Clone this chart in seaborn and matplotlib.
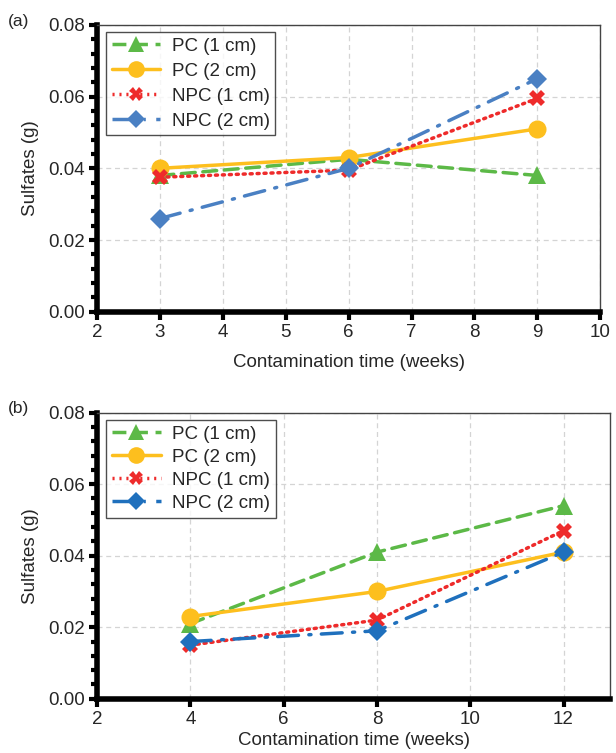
import numpy as np
import pandas as pd
import seaborn as sns
import matplotlib.pyplot as plt
from matplotlib.ticker import MultipleLocator

series = ["PC (1 cm)", "PC (2 cm)", "NPC (1 cm)", "NPC (2 cm)"]

weeks_a = [3, 6, 9]
pc1_a = [0.038, 0.0425, 0.038]
pc2_a = [0.040, 0.043, 0.051]
npc1_a = [0.0375, 0.0395, 0.0595]
npc2_a = [0.026, 0.040, 0.065]

weeks_b = [4, 8, 12]
pc1_b = [0.021, 0.041, 0.054]
pc2_b = [0.023, 0.030, 0.041]
npc1_b = [0.015, 0.022, 0.047]
npc2_b = [0.016, 0.019, 0.041]


def long_df(weeks, vals):
    rows = []
    for name, v in zip(series, vals):
        for w, y in zip(weeks, v):
            rows.append({"week": w, "sulfates": y, "series": name})
    return pd.DataFrame(rows)


df_a = long_df(weeks_a, [pc1_a, pc2_a, npc1_a, npc2_a])
df_b = long_df(weeks_b, [pc1_b, pc2_b, npc1_b, npc2_b])

sns.set_theme(style="white")
plt.rcParams["font.family"] = ["Liberation Sans", "DejaVu Sans"]

dashes = {
    "PC (1 cm)": (4, 2.2),
    "PC (2 cm)": "",
    "NPC (1 cm)": (0.6, 1.4),
    "NPC (2 cm)": (6, 3, 0.6, 3),
}
markers = {"PC (1 cm)": "^", "PC (2 cm)": "o", "NPC (1 cm)": "X", "NPC (2 cm)": "D"}
sizes_m = {"PC (1 cm)": 13, "PC (2 cm)": 13, "NPC (1 cm)": 11, "NPC (2 cm)": 10}

fig = plt.figure(figsize=(6.16, 7.53), dpi=100)
ax_a = fig.add_axes([0.1575, 0.586, 0.817, 0.381])
ax_b = fig.add_axes([0.1575, 0.072, 0.833, 0.380])


def draw(ax, df, pal, xlim, xstep, tag, xpad, lspace):
    sns.lineplot(data=df, x="week", y="sulfates", hue="series", style="series",
                 hue_order=series, style_order=series, palette=pal,
                 dashes=dashes, markers=markers, linewidth=2.5,
                 markeredgewidth=0, ax=ax)
    for line, name in zip(ax.get_lines(), series):
        line.set_markersize(sizes_m[name])
        line.set_dash_capstyle("round")
    ax.set_xlim(*xlim)
    ax.set_ylim(0, 0.08)
    ax.xaxis.set_major_locator(MultipleLocator(xstep))
    ax.yaxis.set_major_locator(MultipleLocator(0.02))
    ax.yaxis.set_minor_locator(MultipleLocator(0.004))
    ax.yaxis.set_major_formatter(plt.FormatStrFormatter("%.2f"))
    ax.grid(True, which="major", color="#d4d4d4", linestyle=(0, (4, 3)), linewidth=0.9)
    for s in ["left", "bottom"]:
        ax.spines[s].set_linewidth(4)
        ax.spines[s].set_color("black")
    for s in ["top", "right"]:
        ax.spines[s].set_linewidth(1)
        ax.spines[s].set_color("#444444")
    ax.tick_params(axis="both", which="major", direction="out", length=6, width=3,
                   color="black", labelsize=13.5, pad=3, left=True, bottom=True)
    ax.tick_params(axis="y", which="minor", direction="out", length=4, width=3,
                   color="black", left=True)
    ax.set_xlabel("Contamination time (weeks)", fontsize=13.5, labelpad=xpad)
    ax.set_ylabel("Sulfates (g)", fontsize=13.5, labelpad=6)
    leg = ax.legend(loc="upper left", fontsize=13.5, frameon=True, fancybox=False,
                    edgecolor="#222222", borderpad=0.3, handlelength=2.6,
                    handletextpad=0.6, labelspacing=lspace, borderaxespad=0,
                    bbox_to_anchor=(0.018, 0.975))
    leg.get_frame().set_linewidth(1)
    for h, name in zip(leg.legend_handles, series):
        h.set_markersize(sizes_m[name] - 1)
    fig.text(0.013, ax.get_position().y1 + 0.015, tag, fontsize=12.5, va="top")


pal_a = {"PC (1 cm)": "#5cb947", "PC (2 cm)": "#fdbf1e",
         "NPC (1 cm)": "#ee2b2b", "NPC (2 cm)": "#4a80c3"}
pal_b = {"PC (1 cm)": "#5cb947", "PC (2 cm)": "#fdbf1e",
         "NPC (1 cm)": "#ee2b2b", "NPC (2 cm)": "#1f70bd"}

draw(ax_a, df_a, pal_a, (2, 10), 1, "(a)", 9, 0.42)
draw(ax_b, df_b, pal_b, (2, 13), 2, "(b)", 3, 0.32)

fig.savefig("out.png", dpi=100)
